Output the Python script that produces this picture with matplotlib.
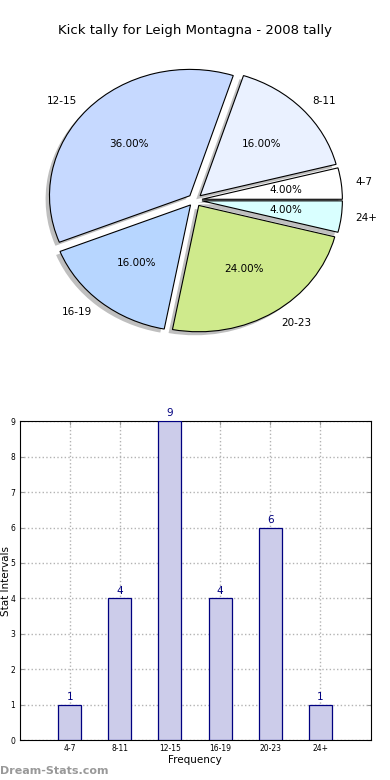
import matplotlib
matplotlib.use("Agg")
import matplotlib.pyplot as plt
import numpy as np

# kick tally data
intervals = ['4-7', '8-11', '12-15', '16-19', '20-23', '24+']
counts = [1, 4, 9, 4, 6, 1]
pie_colors = ['#ffffff', '#eaf1ff', '#c6d9ff', '#b7d6ff', '#cfea8c', '#d9ffff']
title = 'Kick tally for Leigh Montagna - 2008 tally'

fig = plt.figure(figsize=(3.9, 7.8), dpi=100)

# pie chart on top
ax1 = fig.add_axes([0.05, 0.541, 0.9, 0.405])
wedges, texts, autotexts = ax1.pie(
    counts, labels=intervals, colors=pie_colors, explode=[0.05] * len(counts),
    autopct='%1.2f%%', shadow={'ox': -0.02, 'oy': -0.02, 'facecolor': '0.5',
                               'edgecolor': 'none'},
    startangle=0, labeldistance=1.1, pctdistance=0.6,
    wedgeprops={'edgecolor': 'black', 'linewidth': 0.8},
    textprops={'fontsize': 7.5})
ax1.set_aspect('auto')
ax1.set_xlim(-1.25, 1.25)
ax1.set_ylim(-1.25, 1.25)
fig.text(0.5, 0.961, title, fontsize=9.5, ha='center', va='center')

# bar chart below
ax2 = fig.add_axes([0.05, 0.051, 0.9, 0.409])
x = np.arange(len(intervals))
ax2.bar(x, counts, width=0.46, color='#ccccea', edgecolor='#000080', linewidth=0.9,
        zorder=3)
for xi, c in zip(x, counts):
    ax2.text(xi, c + 0.08, str(c), ha='center', va='bottom', color='#000080',
             fontsize=7.5)
ax2.set_xlim(-1, 6)
ax2.set_ylim(0, 9)
ax2.set_xticks(x)
ax2.set_xticklabels(intervals, fontsize=5.5)
ax2.set_yticks(range(10))
ax2.tick_params(axis='y', labelsize=5.5)
ax2.tick_params(direction='in', length=3, color='0.6', top=True, right=True, pad=3)
ax2.grid(True, linestyle=':', color='0.7', linewidth=1.0, zorder=0)
ax2.set_xlabel('Frequency', fontsize=7.5, labelpad=1)

# y label sits right at the left edge of the figure
fig.text(1 / 390, 0.051 + 0.409 / 2, 'Stat Intervals', fontsize=7.5, rotation=90,
         ha='left', va='center')

fig.text(0.0, 0.005, 'Dream-Stats.com', color='0.6', fontsize=8, fontweight='bold',
         ha='left', va='bottom')

fig.savefig('out.png', dpi=100)
